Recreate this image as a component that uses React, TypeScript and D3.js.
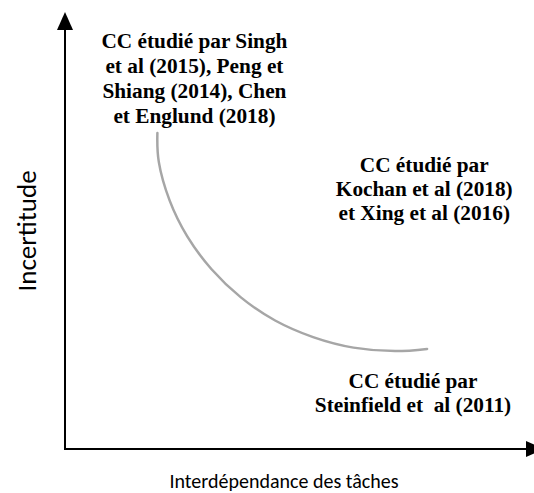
import React from "react";
import * as d3 from "d3";

// Curve points (abstract units: x = task interdependence 0..100, y = uncertainty 0..100)
const curveX = [19.7, 20.0, 22.3, 26.1, 31.2, 37.5, 44.8, 52.9, 61.5, 70.4, 77.2];
const curveY = [72.3, 65.7, 56.9, 48.6, 41.2, 34.7, 29.4, 25.6, 23.2, 22.4, 22.9];

// Annotation blocks
const label1 = ["CC étudié par Singh", "et al (2015), Peng et", "Shiang (2014), Chen", "et Englund (2018)"];
const label2 = ["CC étudié par", "Kochan et al (2018)", "et Xing et al (2016)"];
const label3 = ["CC étudié par", "Steinfield et  al (2011)"];
const labelX = [27.6, 76.6, 74.2];
const labelY = [91.8, 63.4, 13.9];

const xTitle = "Interdépendance des tâches";
const yTitle = "Incertitude";

const W = 534;
const H = 493;

export default function App() {
  const x = d3.scaleLinear().domain([0, 100]).range([65, 534]);
  const y = d3.scaleLinear().domain([0, 100]).range([449, 12]);
  const pts: [number, number][] = curveX.map((v, i) => [v, curveY[i]]);
  const line = d3
    .line<[number, number]>()
    .x((d) => x(d[0]))
    .y((d) => y(d[1]))
    .curve(d3.curveNatural);

  const blocks = [label1, label2, label3];
  const lh = [25, 24, 24];

  return (
    <svg
      width={W}
      height={H}
      style={{ position: "absolute", left: 0, top: 0, background: "#fff" }}
    >
      <rect width={W} height={H} fill="#fff" />
      {/* axes */}
      <line x1={x(0)} y1={y(0)} x2={x(0)} y2={y(100) + 16} stroke="#000" strokeWidth={2} />
      <line x1={x(0) - 1} y1={y(0)} x2={x(100) - 8} y2={y(0)} stroke="#000" strokeWidth={2} />
      <path
        d={`M${x(0)},${y(100)} L${x(0) - 8},${y(100) + 18} L${x(0) + 8},${y(100) + 18} Z`}
        fill="#000"
      />
      <path
        d={`M${x(100) + 10},${y(0)} L${x(100) - 8},${y(0) - 8} L${x(100) - 8},${y(0) + 8} Z`}
        fill="#000"
      />
      {/* curve */}
      <path d={line(pts) || ""} fill="none" stroke="#a6a6a6" strokeWidth={2.5} strokeLinecap="round" />
      {/* annotations */}
      {blocks.map((b, bi) => (
        <text
          key={bi}
          textAnchor="middle"
          fill="#000"
          style={{
            whiteSpace: "pre",
            fontFamily: "Liberation Serif",
            fontWeight: 700,
            fontSize: "21.3px",
          }}
        >
          {b.map((t, i) => (
            <tspan key={i} x={x(labelX[bi])} y={y(labelY[bi]) + i * lh[bi]}>
              {t}
            </tspan>
          ))}
        </text>
      ))}
      {/* axis titles */}
      <text
        x={284}
        y={488}
        textAnchor="middle"
        fill="#000"
        style={{ fontFamily: "Carlito", fontSize: "20px" }}
      >
        {xTitle}
      </text>
      <text
        transform="translate(36,231) rotate(-90)"
        textAnchor="middle"
        fill="#000"
        style={{ fontFamily: "Carlito", fontSize: "27px" }}
      >
        {yTitle}
      </text>
    </svg>
  );
}
